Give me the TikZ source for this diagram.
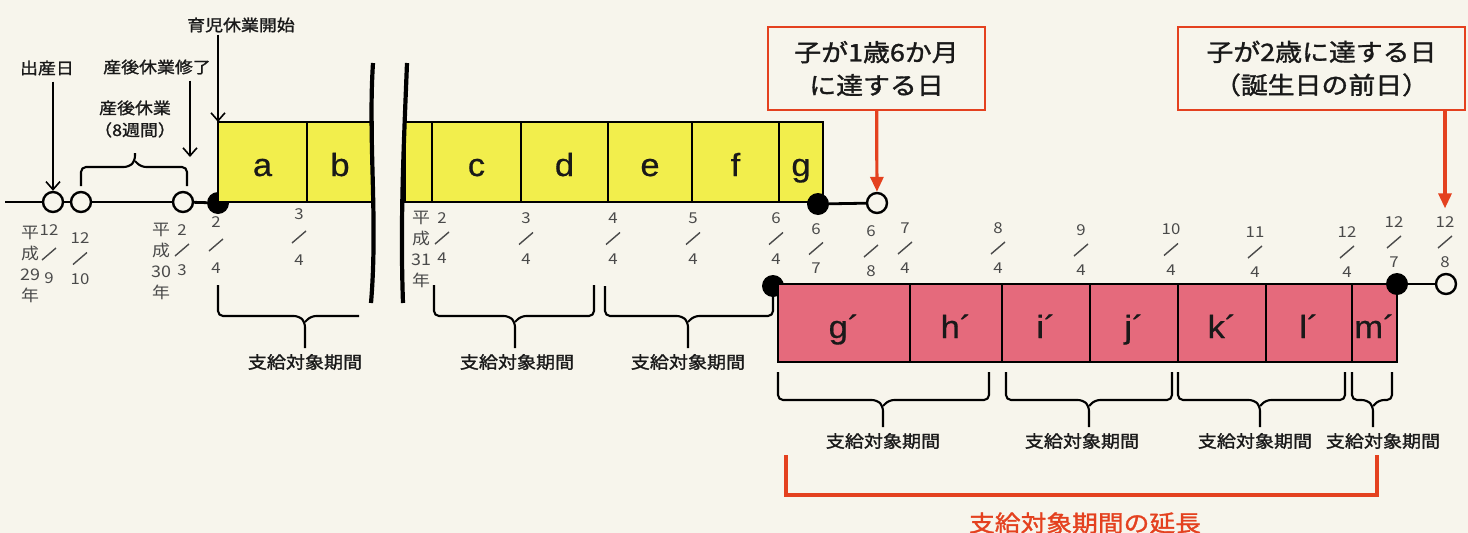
\documentclass[tikz,border=0pt]{standalone}
\usepackage{fontspec}
\setmainfont{Noto Sans CJK JP}[FakeStretch=1.12]
\newfontfamily\heavyfont{Noto Sans CJK JP}[FakeStretch=1.12, FakeBold=1.4]
\newfontfamily\latinfont{Liberation Sans}[FakeStretch=1.08, FakeBold=0.6]
\usetikzlibrary{arrows.meta,positioning,calc}
\tikzset{>={Straight Barb[length=8pt,width=14pt]}}
\definecolor{paper}{HTML}{F7F5EC}
\definecolor{cellyellow}{HTML}{F2EE4C}
\definecolor{cellpink}{HTML}{E56A7C}
\definecolor{markred}{HTML}{E4411F}
\definecolor{dategray}{HTML}{4A4A4A}

% month/day mark: name, x, y of top, y of bottom, top, bottom
\newcommand{\datemark}[6]{%
  \node[datenum] (#1t) at (#2,#3) {#5};
  \node[datenum] (#1b) at (#2,#4) {#6};
  \draw[dateslash] ($(#1t)!.5!(#1b)$) +(-7,6) -- +(7,-6);
}
% brace: left x, right x, arm y, bar y, tip x, tip y
\newcommand{\periodbrace}[6]{%
  \draw[brace] (#1,#3) -- (#1,#4) -- ($(#5,#4)+(-6,0)$) -- ($(#5,#4)!6pt!(#5,#6)$) -- (#5,#6);
  \draw[brace] (#2,#3) -- (#2,#4) -- ($(#5,#4)+(6,0)$) -- ($(#5,#4)!6pt!(#5,#6)$);
}

\begin{document}
\begin{tikzpicture}[x=1pt, y=-1pt,
    datenum/.style={font=\fontsize{15}{15}\selectfont, text=dategray, inner sep=0pt},
    dateslash/.style={draw=dategray, line width=1.4pt},
    era/.style={font=\fontsize{16}{21}\selectfont, text=dategray, align=center, inner sep=0pt},
    note/.style={font=\heavyfont\fontsize{16}{22}\selectfont, text=black!90, align=center, inner sep=0pt},
    ycell/.style={draw, line width=2.3pt, fill=cellyellow, minimum height=80pt, inner sep=0pt,
      outer sep=0pt, text height=28pt, text depth=0pt, text=black!90,
      font=\latinfont\fontsize{32}{32}\selectfont},
    pcell/.style={ycell, fill=cellpink, minimum height=78pt, text height=30pt},
    opendot/.style={circle, draw, line width=2.4pt, fill=paper, minimum size=20pt, inner sep=0pt},
    fulldot/.style={circle, fill=black, minimum size=22pt, inner sep=0pt},
    tline/.style={line width=2.8pt},
    brace/.style={line width=2.1pt, rounded corners=5pt},
    breakline/.style={line width=4.2pt},
    period/.style={font=\heavyfont\fontsize{17}{17}\selectfont, text=black!90, inner sep=0pt},
    redbox/.style={draw=markred, line width=2.4pt, fill=paper, align=center,
      font=\heavyfont\fontsize{24}{33}\selectfont, text=black!90, minimum height=83pt, inner sep=0pt},
    redarrow/.style={draw=markred, line width=3.2pt, -{Triangle[length=15pt,width=13pt]}},
    redline/.style={draw=markred, line width=3.4pt},
  ]
  \useasboundingbox (0,0) rectangle (1468,533);
  \fill[paper] (0,0) rectangle (1468,533);

  % top timeline
  \coordinate (l0) at (5,202);
  \node[opendot] (birth) at (53,202) {};
  \node[opendot] (o2) at (81,202) {};
  \node[opendot] (o3) at (183,202) {};
  \node[fulldot] (start) at (218,203) {};
  \draw[tline] (l0) -- (birth);
  \draw[tline] (birth) -- (o2);
  \draw[tline] (o2) -- (o3);
  \draw[tline] (o3) -- (start);

  % yellow months
  \node[ycell, minimum width=89pt, anchor=south west] (a) at (218,202) {a};
  \node[ycell, minimum width=66pt, right=0pt of a] (b) {b};
  \node[ycell, minimum width=27pt, anchor=south west] (cut) at (405,202) {};
  \node[ycell, minimum width=89pt, right=0pt of cut] (c) {c};
  \node[ycell, minimum width=87pt, right=0pt of c] (d) {d};
  \node[ycell, minimum width=84pt, right=0pt of d] (e) {e};
  \node[ycell, minimum width=87pt, right=0pt of e] (f) {f};
  \node[ycell, minimum width=44pt, right=0pt of f] (g) {g};
  \node[fulldot] (yend) at (818,204) {};
  \node[opendot] (o68) at (877,203) {};
  \draw[tline] (yend) -- (o68);

  % break
  \draw[breakline] (373,63) .. controls (368,140) and (378,220) .. (371,303);
  \draw[breakline] (407,63) .. controls (404,140) and (400,220) .. (403,303);

  % pink months
  \node[fulldot] (pstart) at (773,286) {};
  \node[pcell, minimum width=132pt, anchor=north west] (g2) at (778,284) {g´};
  \node[pcell, minimum width=92pt, right=0pt of g2] (h2) {h´};
  \node[pcell, minimum width=88pt, right=0pt of h2] (i2) {i´};
  \node[pcell, minimum width=88pt, right=0pt of i2] (j2) {j´};
  \node[pcell, minimum width=88pt, right=0pt of j2] (k2) {k´};
  \node[pcell, minimum width=86pt, right=0pt of k2] (l2) {l´};
  \node[pcell, minimum width=45pt, right=0pt of l2] (m2) {m´};
  \node[fulldot] (pend) at (1397,284) {};
  \node[opendot] (o128) at (1446,284) {};
  \draw[tline] (pend) -- (o128);

  % notes and black arrows
  \node[note] (birthlbl) at (47,68) {出産日};
  \node[note] (endlbl) at (157,67) {産後休業修了};
  \node[note] (startlbl) at (241,25) {育児休業開始};
  \node[note] (leavelbl) at (135,119) {産後休業\\（8週間）};
  \coordinate (endtip) at (190,157);
  \draw[->, line width=1.6pt, shorten <=6pt] (birthlbl.south -| birth) -- (birth.north);
  \draw[->, line width=1.6pt, shorten <=6pt] (endlbl.south -| endtip) -- (endtip);
  \draw[->, line width=1.6pt, shorten <=2pt] (startlbl.south -| a.north west) -- (a.north west);
  \periodbrace{81}{187}{186}{167}{135}{153}

  % dates
  \node[era] (era29) at (30,264) {平\\成\\29\\年};
  \node[era] (era30) at (161,261) {平\\成\\30\\年};
  \node[era] (era31) at (421,249) {平\\成\\31\\年};
  \datemark{d129}{49}{230}{278}{12}{9}
  \datemark{d1210}{80}{238}{279}{12}{10}
  \datemark{d23}{182}{230}{270}{2}{3}
  \datemark{d24a}{216}{222}{268}{2}{4}
  \datemark{d34a}{299}{214}{260}{3}{4}
  \datemark{d24b}{442}{218}{258}{2}{4}
  \datemark{d34b}{526}{218}{259}{3}{4}
  \datemark{d44}{613}{218}{259}{4}{4}
  \datemark{d54}{693}{218}{259}{5}{4}
  \datemark{d64}{776}{218}{259}{6}{4}
  \datemark{d67}{816}{229}{268}{6}{7}
  \datemark{d68}{871}{231}{271}{6}{8}
  \datemark{d74}{905}{228}{268}{7}{4}
  \datemark{d84}{998}{228}{268}{8}{4}
  \datemark{d94}{1081}{230}{270}{9}{4}
  \datemark{d104}{1171}{229}{270}{10}{4}
  \datemark{d114}{1255}{232}{272}{11}{4}
  \datemark{d124}{1347}{232}{272}{12}{4}
  \datemark{d127}{1394}{222}{262}{12}{7}
  \datemark{d128}{1445}{222}{262}{12}{8}

  % periods
  \draw[brace] (218,285) -- (218,316) -- (299,316) -- (305,322) -- (305,348);
  \draw[brace] (359,316) -- (311,316) -- (305,322);
  \periodbrace{434}{594}{285}{316}{515}{348}
  \periodbrace{605}{773}{286}{316}{688}{348}
  \periodbrace{778}{989}{372}{400}{883}{427}
  \periodbrace{1006}{1172}{372}{400}{1089}{427}
  \periodbrace{1178}{1345}{372}{400}{1260}{427}
  \periodbrace{1352}{1392}{372}{400}{1373}{427}
  \node[period] (p1) at (305,362) {支給対象期間};
  \node[period] (p2) at (517,362) {支給対象期間};
  \node[period] (p3) at (688,362) {支給対象期間};
  \node[period] (p4) at (883,441) {支給対象期間};
  \node[period] (p5) at (1082,441) {支給対象期間};
  \node[period] (p6) at (1255,441) {支給対象期間};
  \node[period] (p7) at (1383,441) {支給対象期間};

  % red notes
  \node[redbox, minimum width=217pt] (age18) at (876.5,68.5) {子が1歳6か月\\に達する日};
  \node[redbox, minimum width=287pt] (age2) at (1321.5,68.5) {子が2歳に達する日\\（誕生日の前日）};
  \draw[redarrow] (age18) -- (o68);
  \draw[redarrow, shorten >=8pt] (age2.south -| d128t) -- (d128t.north);
  \coordinate (extl) at (786,455);
  \coordinate (extr) at (1377,455);
  \draw[redline] (extl) -- ++(0,40) -| (extr);
  \node[font=\heavyfont\fontsize{23}{23}\selectfont, text=markred, inner sep=0pt] (extlbl) at (1085,523) {支給対象期間の延長};
\end{tikzpicture}
\end{document}
